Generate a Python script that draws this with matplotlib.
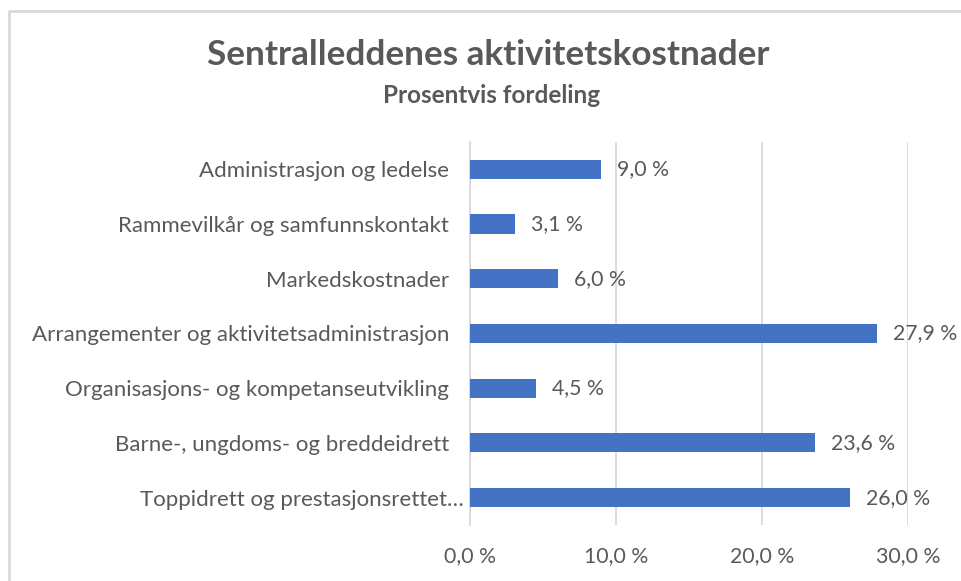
import matplotlib
matplotlib.use("Agg")
import matplotlib.pyplot as plt
from matplotlib.patches import Rectangle
import matplotlib.transforms as mtransforms

# categories from top to bottom, as in the chart
categories = [
    "Administrasjon og ledelse",
    "Rammevilkår og samfunnskontakt",
    "Markedskostnader",
    "Arrangementer og aktivitetsadministrasjon",
    "Organisasjons- og kompetanseutvikling",
    "Barne-, ungdoms- og breddeidrett",
    "Toppidrett og prestasjonsrettet…",
]
shares = [9.0, 3.1, 6.0, 27.9, 4.5, 23.6, 26.0]
x_ticks = [0, 10, 20, 30]

title = "Sentralleddenes aktivitetskostnader"
subtitle = "Prosentvis fordeling"

bar_color = "#4472C4"
text_color = "#595959"
grid_color = "#D9D9D9"

plt.rcParams["font.family"] = ["Lato", "DejaVu Sans"]

fig = plt.figure(figsize=(9.62, 5.81), dpi=100)
ax = fig.add_axes([0.4886, 0.0964, 0.4553, 0.6592])

# light chart border like the Excel chart frame
fig.patches.append(Rectangle((9 / 962, -0.1), 1.2, 1 - 11 / 581 + 0.1,
                             transform=fig.transFigure, fill=False,
                             edgecolor="#D9D9D9", linewidth=2))

y = list(range(len(categories)))
ax.barh(y, shares, height=0.35, color=bar_color, zorder=3)
ax.set_ylim(len(categories) - 0.5, -0.5)
ax.set_xlim(0, 30)

for yi, v in zip(y, shares):
    ax.text(v + 1.1, yi, ("%.1f" % v).replace(".", ",") + " %",
            va="center", ha="left", fontsize=15.3, color=text_color)

ax.set_yticks(y)
ax.set_yticklabels(categories, fontsize=16, color=text_color)
ax.set_xticks(x_ticks)
ax.set_xticklabels([("%.1f" % t).replace(".", ",") + " %" for t in x_ticks],
                   fontsize=15.3, color=text_color)
ax.tick_params(axis="y", length=0, pad=15)
ax.tick_params(axis="x", length=0, pad=15)

# Excel lets the truncated last label run a bit further right
last = ax.get_yticklabels()[-1]
last.set_transform(last.get_transform() +
                   mtransforms.ScaledTranslation(15 / 100, 0, fig.dpi_scale_trans))

ax.grid(axis="x", color=grid_color, linewidth=1.3, zorder=0)
for s in ["top", "right", "bottom"]:
    ax.spines[s].set_visible(False)
ax.spines["left"].set_color(grid_color)
ax.spines["left"].set_linewidth(1.3)

fig.text(0.508, 1 - 55 / 581, title, ha="center", va="center",
         fontsize=25.3, fontweight="bold", color=text_color)
fig.text(0.511, 1 - 95 / 581, subtitle, ha="center", va="center",
         fontsize=17.5, fontweight="bold", color=text_color)

fig.savefig("out.png", dpi=100, facecolor="white")
